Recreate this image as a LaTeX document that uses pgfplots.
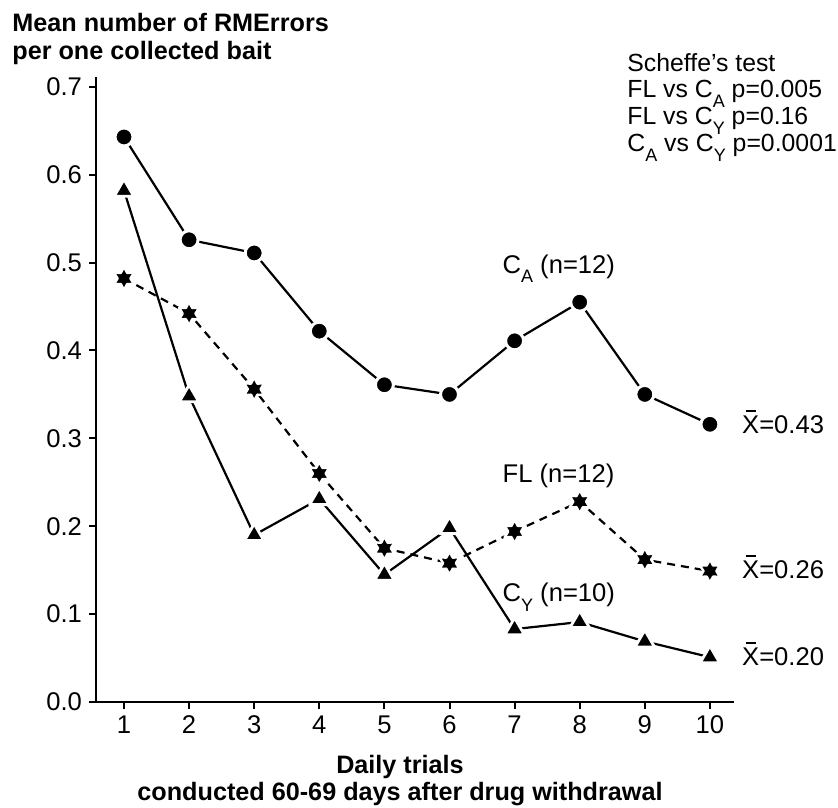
\documentclass[border=0pt]{standalone}
\usepackage{fontspec}
\setmainfont{Liberation Sans}
\usepackage{pgfplots}
\pgfplotsset{compat=1.18}

\pgfdeclareplotmark{star6}{%
  \pgfpathmoveto{\pgfpointpolar{90}{\pgfplotmarksize}}%
  \pgfpathlineto{\pgfpointpolar{120}{0.55\pgfplotmarksize}}%
  \pgfpathlineto{\pgfpointpolar{150}{\pgfplotmarksize}}%
  \pgfpathlineto{\pgfpointpolar{180}{0.55\pgfplotmarksize}}%
  \pgfpathlineto{\pgfpointpolar{210}{\pgfplotmarksize}}%
  \pgfpathlineto{\pgfpointpolar{240}{0.55\pgfplotmarksize}}%
  \pgfpathlineto{\pgfpointpolar{270}{\pgfplotmarksize}}%
  \pgfpathlineto{\pgfpointpolar{300}{0.55\pgfplotmarksize}}%
  \pgfpathlineto{\pgfpointpolar{330}{\pgfplotmarksize}}%
  \pgfpathlineto{\pgfpointpolar{0}{0.55\pgfplotmarksize}}%
  \pgfpathlineto{\pgfpointpolar{30}{\pgfplotmarksize}}%
  \pgfpathlineto{\pgfpointpolar{60}{0.55\pgfplotmarksize}}%
  \pgfpathclose
  \pgfusepathqfillstroke
}

\newcommand{\lblfont}{\fontsize{12.8}{15}\selectfont}
\newcommand{\schfont}{\fontsize{12.4}{14}\selectfont}
\newcommand{\ttlfont}{\bfseries\fontsize{12.6}{14}\selectfont}
\newcommand{\Xbar}{\leavevmode\rlap{\hspace{0.13em}\rule[0.82em]{0.40em}{0.08em}}X}
\newcommand{\sub}[1]{\raisebox{-0.38em}{\fontsize{9}{9}\selectfont #1}}

\begin{document}
\begin{tikzpicture}
\useasboundingbox (0,0) rectangle (419pt,403.5pt);

% title
\node[anchor=base west, inner sep=0pt, font=\ttlfont] at (6pt,387.5pt) {Mean number of RMErrors};
\node[anchor=base west, inner sep=0pt, font=\ttlfont] at (6pt,373.5pt) {per one collected bait};

% Scheffe
\node[anchor=base west, inner sep=0pt, font=\schfont] at (313.5pt,367.5pt) {Scheffe's test};
\node[anchor=base west, inner sep=0pt, font=\schfont] at (313.5pt,354.5pt) {FL vs C\sub{A} p=0.005};
\node[anchor=base west, inner sep=0pt, font=\schfont] at (313.5pt,341pt) {FL vs C\sub{Y} p=0.16};
\node[anchor=base west, inner sep=0pt, font=\schfont] at (313.5pt,327.5pt) {C\sub{A} vs C\sub{Y} p=0.0001};

% x label
\node[anchor=base, inner sep=0pt, font=\ttlfont] at (200pt,17pt) {Daily trials};
\node[anchor=base, inner sep=0pt, font=\ttlfont] at (200pt,3.5pt) {conducted 60-69 days after drug withdrawal};

\begin{axis}[
  at={(48pt,52.5pt)}, anchor=south west,
  scale only axis, width=319pt, height=312.4pt,
  xmin=0.57, xmax=10.37, ymin=0, ymax=0.711,
  axis x line=bottom, axis y line=left,
  axis line style={-, line width=1.1pt},
  xtick={1,2,3,4,5,6,7,8,9,10},
  ytick={0,0.1,0.2,0.3,0.4,0.5,0.6,0.7},
  yticklabel style={/pgf/number format/.cd, fixed, fixed zerofill, precision=1},
  /pgf/number format/assume math mode=true,
  tick align=outside, major tick length=3.5pt,
  tick style={line width=1pt, black},
  tick label style={font=\lblfont},
  clip=false,
]
\addplot[black, line width=1.1pt, mark=*, mark size=4.5pt,
  mark options={solid, fill=black, draw=white, line width=1.5pt}]
  coordinates {(1,0.643) (2,0.526) (3,0.511) (4,0.422) (5,0.361) (6,0.350) (7,0.411) (8,0.455) (9,0.350) (10,0.316)};
\addplot[black, line width=1.1pt, dash pattern=on 4pt off 3pt, mark=star6, mark size=5.8pt,
  mark options={solid, fill=black, draw=white, line width=1.2pt, line join=round}]
  coordinates {(1,0.482) (2,0.442) (3,0.356) (4,0.260) (5,0.175) (6,0.158) (7,0.194) (8,0.228) (9,0.162) (10,0.149)};
\addplot[black, line width=1.1pt, mark=triangle*, mark size=5.6pt,
  mark options={solid, fill=black, draw=white, line width=1.4pt, line join=round}]
  coordinates {(1,0.582) (2,0.348) (3,0.190) (4,0.231) (5,0.145) (6,0.198) (7,0.083) (8,0.091) (9,0.069) (10,0.051)};

\node[anchor=base west, inner sep=0pt, font=\lblfont] at (axis cs:6.81,0.488) {C\sub{A} (n=12)};
\node[anchor=base west, inner sep=0pt, font=\lblfont] at (axis cs:6.81,0.250) {FL (n=12)};
\node[anchor=base west, inner sep=0pt, font=\lblfont] at (axis cs:6.81,0.114) {C\sub{Y} (n=10)};

\node[anchor=base west, inner sep=0pt, font=\lblfont] at (axis cs:10.49,0.306) {\Xbar=0.43};
\node[anchor=base west, inner sep=0pt, font=\lblfont] at (axis cs:10.49,0.141) {\Xbar=0.26};
\node[anchor=base west, inner sep=0pt, font=\lblfont] at (axis cs:10.49,0.042) {\Xbar=0.20};
\end{axis}
\end{tikzpicture}
\end{document}
